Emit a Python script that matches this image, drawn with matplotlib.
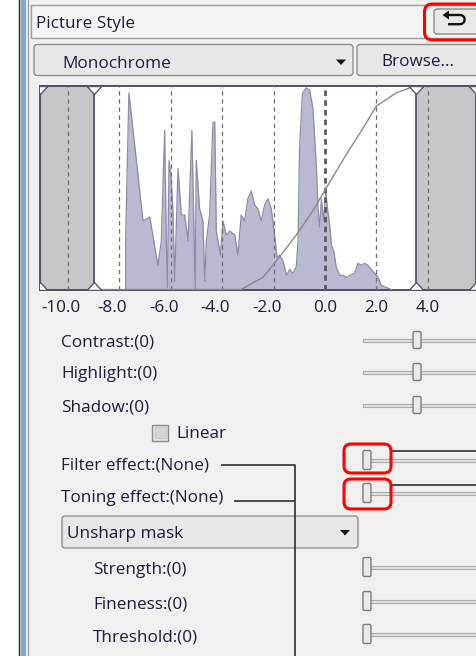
import numpy as np
import matplotlib
matplotlib.use("Agg")
import matplotlib.pyplot as plt
from matplotlib.patches import Rectangle, FancyBboxPatch, Polygon
from matplotlib.transforms import ScaledTranslation

plt.rcParams['font.family'] = ['Open Sans', 'DejaVu Sans']

# ---- data ----
tick_vals = [-10.0, -8.0, -6.0, -4.0, -2.0, 0.0, 2.0, 4.0]
tick_labels = ['-10.0', '-8.0', '-6.0', '-4.0', '-2.0', '0.0', '2.0', '4.0']
black_point = -8.97
white_point = 3.53

hist_x = [-7.76, -7.76, -7.63, -7.08, -6.82, -6.50, -6.37, -6.24, -6.17, -6.13,
          -6.07, -5.98, -5.91, -5.85, -5.72, -5.59, -5.46, -5.33, -5.18, -5.11,
          -5.05, -5.01, -4.88, -4.75, -4.68, -4.62, -4.49, -4.36, -4.29, -4.23,
          -4.07, -3.97, -3.84, -3.71, -3.51, -3.39, -3.26, -3.13, -3.00, -2.87,
          -2.74, -2.61, -2.48, -2.35, -2.22, -2.09, -1.96, -1.87, -1.76, -1.63,
          -1.50, -1.37, -1.25, -1.12, -1.05, -0.99, -0.88, -0.75, -0.60, -0.47,
          -0.34, -0.27, -0.21, -0.14, -0.05, 0.03, 0.08, 0.18, 0.25, 0.34,
          0.44, 0.57, 0.70, 0.83, 0.96, 1.15, 1.28, 1.41, 1.54, 1.67,
          1.87, 2.06, 2.19, 2.39, 2.58]
hist_y = [0.00, 0.24, 0.975, 0.34, 0.36, 0.12, 0.24, 0.79, 0.21, 0.01,
          0.64, 0.54, 0.37, 0.04, 0.60, 0.37, 0.37, 0.24, 0.79, 0.37,
          0.00, 0.64, 0.40, 0.34, 0.04, 0.24, 0.37, 0.83, 0.83, 0.29,
          0.17, 0.34, 0.27, 0.29, 0.27, 0.17, 0.37, 0.34, 0.45, 0.49,
          0.42, 0.40, 0.34, 0.42, 0.45, 0.40, 0.27, 0.16, 0.17, 0.14,
          0.07, 0.10, 0.08, 0.11, 0.24, 0.70, 0.97, 1.00, 0.99, 0.90,
          0.62, 0.40, 0.31, 0.45, 0.34, 0.49, 0.42, 0.32, 0.22, 0.19,
          0.11, 0.07, 0.07, 0.06, 0.07, 0.08, 0.13, 0.12, 0.13, 0.12,
          0.09, 0.06, 0.02, 0.01, 0.00]

curve_x = [black_point, -3.26, -2.42, -1.90, -1.12, -0.47, 0.03, 0.83, 1.48, 2.00, 2.77, 3.29, white_point]
curve_y = [0.0, 0.0, 0.06, 0.14, 0.27, 0.39, 0.50, 0.67, 0.80, 0.91, 0.975, 1.0, 1.0]

# sliders: label, row y, thumb x
upper_labels = ['Contrast:(0)', 'Highlight:(0)', 'Shadow:(0)']
upper_rows = [341, 373, 406]
upper_thumb = [417, 417, 417]
effect_labels = ['Filter effect:(None)', 'Toning effect:(None)']
effect_rows = [464, 497]
effect_thumb = [367, 367]
usm_labels = ['Strength:(0)', 'Fineness:(0)', 'Threshold:(0)']
usm_rows = [569, 603, 636]
usm_thumb = [367, 367, 367]

TXT = '#1c1c3a'
FS = 12.3
DY = 1.5  # text sits a little lower than matplotlib's centre

fig = plt.figure(figsize=(4.76, 6.56), dpi=100)
fig.patch.set_facecolor('white')
ax = fig.add_axes([0, 0, 1, 1])
ax.set_xlim(0, 476)
ax.set_ylim(656, 0)
ax.axis('off')

def label(x, y, s, ha='left'):
    ax.text(x, y + DY, s, fontsize=FS, color=TXT, va='center', ha=ha)

# panel background and left border
ax.add_patch(Rectangle((19, 0), 460, 656, fc='#f0f0f0', ec='none'))
ax.plot([18.8, 18.8], [0, 656], color='#202020', lw=1.0)
ax.add_patch(Rectangle((21.3, 0), 5.0, 656, fc='#78aad8', ec='none'))
ax.plot([28.3, 28.3], [0, 656], color='#9a9a9a', lw=0.9)

# title bar
ax.add_patch(Rectangle((30.5, 5), 460, 32.5, fc='#f4f4f4', ec='#9c9c9c', lw=1))
label(36, 23, 'Picture Style')

# back button
ax.add_patch(FancyBboxPatch((434, 9), 50, 25, boxstyle='round,pad=0,rounding_size=3',
                            fc='#e9e9e9', ec='#8a8a8a', lw=1))
th = np.linspace(-np.pi / 2, np.pi / 2, 20)
ax.plot(np.r_[448, 460 + 4.6 * np.cos(th), 448], np.r_[15, 19.6 + 4.6 * np.sin(th), 24.2],
        color='#111111', lw=1.7, solid_capstyle='butt')
ax.add_patch(Polygon([[442.5, 15], [449, 10.5], [449, 19.5]], closed=True, fc='#111111', ec='none'))
ax.add_patch(FancyBboxPatch((424.5, 4), 60, 36, boxstyle='round,pad=0,rounding_size=8',
                            fc='none', ec='#ff0000', lw=2.2))

# picture style combobox and browse button
ax.add_patch(FancyBboxPatch((34, 44.5), 319, 31, boxstyle='round,pad=0,rounding_size=3',
                            fc='#e7e7e7', ec='#8e8e8e', lw=1))
label(62, 62, 'Monochrome')
ax.add_patch(Polygon([[336, 59.5], [346, 59.5], [341, 65]], closed=True, fc='#111111', ec='none'))
ax.add_patch(FancyBboxPatch((357, 44.5), 130, 31, boxstyle='round,pad=0,rounding_size=3',
                            fc='#e7e7e7', ec='#8e8e8e', lw=1))
label(418, 61, 'Browse...', ha='center')

# ---- histogram axes ----
W, H = 476.0, 656.0
hx0, hx1, hy0, hy1 = 40, 476, 85.5, 289.5
axh = fig.add_axes([hx0 / W, 1 - hy1 / H, (hx1 - hx0) / W, (hy1 - hy0) / H])
px_per_unit = 25.7
xmin = -10 + (hx0 - 68) / px_per_unit
xmax = -10 + (hx1 - 68) / px_per_unit
axh.set_xlim(xmin, xmax)
axh.set_ylim(0, 1.012)
axh.set_facecolor('white')

axh.axvspan(xmin, black_point, color='#c6c6c6', lw=0, zorder=1)
axh.axvspan(white_point, xmax, color='#c6c6c6', lw=0, zorder=1)

axh.fill_between(hist_x, hist_y, 0, color='#b9b9d2', lw=0, zorder=2)
axh.plot(hist_x, hist_y, color='#8c8ca6', lw=0.9, zorder=3)

for t in tick_vals:
    if t == 0.0:
        axh.axvline(t, color='#5a5a5a', lw=2.0, ls=(0, (2, 1.5)), zorder=4)
    else:
        axh.axvline(t, color='#6e6e6e', lw=0.9, ls=(0, (3.5, 3)), zorder=4)

axh.plot(curve_x, curve_y, color='#8a8a8a', lw=1.0, zorder=5)

for bp in (black_point, white_point):
    axh.axvline(bp, color='#55556a', lw=1.3, zorder=6)

tri_down = [(-1, 0), (1, 0), (0, -1.1), (-1, 0)]
tri_up = [(-1, 0), (1, 0), (0, 1.1), (-1, 0)]
for xv in (xmin, black_point, white_point, xmax):
    axh.plot([xv], [1.012], marker=tri_down, ms=11.5, mfc='white', mec='#55556a', mew=1.0, zorder=7)
    axh.plot([xv], [0.0], marker=tri_up, ms=11.5, mfc='white', mec='#55556a', mew=1.0, zorder=7)

for s in axh.spines.values():
    s.set_color('#50505e')
    s.set_linewidth(1.4)
axh.set_yticks([])
axh.set_xticks(tick_vals, tick_labels)
axh.tick_params(axis='x', length=0, pad=7.5, labelsize=FS, labelcolor=TXT)
# the numbers are centred on the digits, the minus sign hangs to the left
for lbl in axh.get_xticklabels():
    if lbl.get_text().startswith('-'):
        lbl.set_transform(lbl.get_transform() + ScaledTranslation(-0.07, 0, fig.dpi_scale_trans))

# ---- slider helper ----
def slider(y, thumb_x, thumb_h=18):
    ax.add_patch(Rectangle((363, y - 1.5), 120, 3, fc='#e2e2e2', ec='#a9a9a9', lw=0.8))
    ax.add_patch(FancyBboxPatch((thumb_x - 4, y - thumb_h / 2), 8, thumb_h,
                                boxstyle='round,pad=0,rounding_size=1.5',
                                fc='#e9e9e9', ec='#7c7c7c', lw=1, zorder=3))

for lab, y, tx in zip(upper_labels, upper_rows, upper_thumb):
    label(61, y, lab)
    slider(y - 1, tx, 17)

# linear checkbox
ax.add_patch(Rectangle((152, 424.5), 16, 16, fc='#e4e4e4', ec='#8a8a8a', lw=1))
ax.add_patch(Rectangle((154.5, 427), 11, 11, fc='#d6d6d6', ec='#c4c4c4', lw=0.6))
label(176, 433, 'Linear')

for lab, y, tx in zip(effect_labels, effect_rows, effect_thumb):
    label(61, y, lab)
    slider(y - 4, tx, 19)

# unsharp mask combobox
ax.add_patch(FancyBboxPatch((62, 516), 296, 32, boxstyle='round,pad=0,rounding_size=3',
                            fc='#e7e7e7', ec='#8e8e8e', lw=1))
label(67, 532, 'Unsharp mask')
ax.add_patch(Polygon([[340, 530], [350, 530], [345, 535.5]], closed=True, fc='#111111', ec='none'))

for lab, y, tx in zip(usm_labels, usm_rows, usm_thumb):
    label(93, y, lab)
    slider(y - 2, tx, 19)

# callout lines and red highlight boxes
LC = '#3c3c3c'
ax.plot([222, 295, 295], [464.5, 464.5, 656], color=LC, lw=1.3)
ax.plot([235, 295], [500.5, 500.5], color=LC, lw=1.3)
ax.plot([391, 476], [450.5, 450.5], color=LC, lw=1.3)
ax.plot([391, 476], [485, 485], color=LC, lw=1.3)
ax.add_patch(FancyBboxPatch((344, 444), 47, 29, boxstyle='round,pad=0,rounding_size=7',
                            fc='none', ec='#ff0000', lw=2.2, zorder=5))
ax.add_patch(FancyBboxPatch((344, 479), 47, 30, boxstyle='round,pad=0,rounding_size=7',
                            fc='none', ec='#ff0000', lw=2.2, zorder=5))

fig.savefig('out.png', dpi=100, facecolor=fig.get_facecolor())
